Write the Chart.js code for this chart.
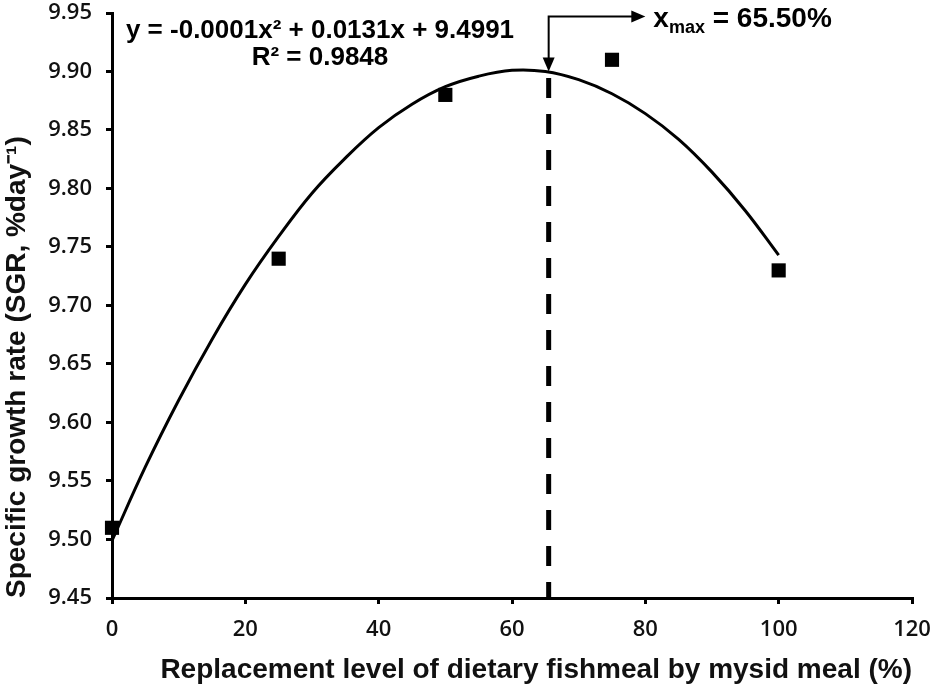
<!DOCTYPE html>
<html lang="en">
<head>
  <meta charset="UTF-8">
  <title>SGR vs replacement level</title>
  <script src="https://cdn.jsdelivr.net/npm/chart.js"></script>
  <style>
    body { margin:0; background:#fff; }
    .wrap { width:935px; height:691px; }
  </style>
</head>
<body>
  <div class="wrap"><canvas id="sgrChart" width="935" height="691"></canvas></div>
  <script>
    // observed means
    const levels = [0, 25, 50, 75, 100];
    const sgr = [9.51, 9.74, 9.88, 9.91, 9.73];
    // trend curve, every 5 %
    const curveX = [0, 5, 10, 15, 20, 25, 30, 35, 40, 45, 50, 55, 60, 65, 70, 75, 80, 85, 90, 95, 100];
    const curveY = [9.499, 9.562, 9.619, 9.671, 9.718, 9.759, 9.796, 9.826, 9.852, 9.872, 9.887,
                    9.896, 9.901, 9.900, 9.893, 9.881, 9.864, 9.842, 9.814, 9.781, 9.743];
    const xMax = 65.5;
    const xMaxTop = 9.90;
    const arrowY = 9.947;
    const arrowEndX = 80;
    const xTicks = [0, 20, 40, 60, 80, 100, 120];
    const yTicks = [9.45, 9.50, 9.55, 9.60, 9.65, 9.70, 9.75, 9.80, 9.85, 9.90, 9.95];
    const eqText = 'y = -0.0001x² + 0.0131x + 9.4991';
    const r2Text = 'R² = 0.9848';

    const tickFont = { family: "'Open Sans', sans-serif", size: 22, weight: '600' };
    const titleFont = { family: "'Liberation Sans', Arial, sans-serif", size: 28, weight: 'bold' };

    function arrowHead(ctx, x, y, dir) {
      ctx.beginPath();
      if (dir === 'down') {
        ctx.moveTo(x, y); ctx.lineTo(x - 6, y - 14); ctx.lineTo(x + 6, y - 14);
      } else {
        ctx.moveTo(x, y); ctx.lineTo(x - 14, y - 6); ctx.lineTo(x - 14, y + 6);
      }
      ctx.closePath();
      ctx.fill();
    }

    const notes = {
      id: 'notes',
      afterDatasetsDraw(chart) {
        const { ctx, scales: { x, y } } = chart;
        ctx.save();
        ctx.fillStyle = '#000';
        ctx.strokeStyle = '#000';

        // equation
        ctx.font = "bold 26px 'Liberation Sans', Arial, sans-serif";
        ctx.textAlign = 'center';
        ctx.textBaseline = 'middle';
        ctx.fillText(eqText, 320, 31);
        ctx.fillText(r2Text, 320, 58);

        // arrow to the maximum
        const px = x.getPixelForValue(xMax);
        const pTop = y.getPixelForValue(arrowY);
        const pEnd = y.getPixelForValue(xMaxTop);
        const pRight = x.getPixelForValue(arrowEndX);
        ctx.lineWidth = 2;
        ctx.beginPath();
        ctx.moveTo(px, pEnd - 12);
        ctx.lineTo(px, pTop);
        ctx.lineTo(pRight - 12, pTop);
        ctx.stroke();
        arrowHead(ctx, px, pEnd, 'down');
        arrowHead(ctx, pRight, pTop, 'right');

        // x_max label
        ctx.textAlign = 'left';
        ctx.textBaseline = 'alphabetic';
        let tx = pRight + 8;
        ctx.font = "bold 28px 'Liberation Sans', Arial, sans-serif";
        ctx.fillText('x', tx, 27);
        tx += ctx.measureText('x').width;
        ctx.font = "bold 18px 'Liberation Sans', Arial, sans-serif";
        ctx.fillText('max', tx, 33);
        tx += ctx.measureText('max').width;
        ctx.font = "bold 28px 'Liberation Sans', Arial, sans-serif";
        ctx.fillText(' = 65.50%', tx, 27);
        ctx.restore();
      }
    };

    new Chart(document.getElementById('sgrChart').getContext('2d'), {
      type: 'scatter',
      data: {
        datasets: [
          {
            label: 'SGR',
            data: levels.map((v, i) => ({ x: v, y: sgr[i] })),
            pointStyle: 'rect',
            pointRadius: 10,
            pointBorderWidth: 0,
            backgroundColor: '#000',
            clip: false,
            order: 1
          },
          {
            label: 'Trend',
            type: 'line',
            data: curveX.map((v, i) => ({ x: v, y: curveY[i] })),
            borderColor: '#000',
            borderWidth: 3,
            pointRadius: 0,
            tension: 0.4,
            fill: false,
            order: 2
          },
          {
            label: 'xmax',
            type: 'line',
            data: [{ x: xMax, y: 9.45 }, { x: xMax, y: xMaxTop }],
            borderColor: '#000',
            borderWidth: 5,
            borderDash: [20, 16],
            borderDashOffset: 4,
            pointRadius: 0,
            fill: false,
            order: 3
          }
        ]
      },
      options: {
        responsive: false,
        animation: false,
        layout: { padding: { top: 13, right: 23, left: 0, bottom: 0 } },
        plugins: { legend: { display: false }, tooltip: { enabled: false } },
        scales: {
          x: {
            type: 'linear',
            min: 0, max: 120,
            afterBuildTicks: s => { s.ticks = xTicks.map(v => ({ value: v })); },
            afterFit: s => { s.height = 93; s.paddingLeft = 0; s.paddingRight = 0; },
            grid: { drawOnChartArea: false, drawTicks: true, tickLength: 6, color: '#000', lineWidth: 3 },
            border: { color: '#000', width: 3 },
            ticks: { color: '#111', font: tickFont, padding: 13, maxRotation: 0 },
            title: { display: true, text: 'Replacement level of dietary fishmeal by mysid meal (%)', align: 'end',
                     color: '#111', font: titleFont, padding: { bottom: 4 } }
          },
          y: {
            type: 'linear',
            min: 9.45, max: 9.95,
            afterBuildTicks: s => { s.ticks = yTicks.map(v => ({ value: v })); },
            afterFit: s => { s.width = 112; s.paddingTop = 0; s.paddingBottom = 0; },
            grid: { drawOnChartArea: false, drawTicks: true, tickLength: 6, color: '#000', lineWidth: 3 },
            border: { color: '#000', width: 3 },
            ticks: { color: '#111', font: tickFont, padding: 14, callback: v => v.toFixed(2) },
            title: { display: true, text: 'Specific growth rate (SGR, %day⁻¹)', align: 'start',
                     color: '#111', font: titleFont, padding: { top: 0 } }
          }
        }
      },
      plugins: [notes]
    });
  </script>
</body>
</html>
